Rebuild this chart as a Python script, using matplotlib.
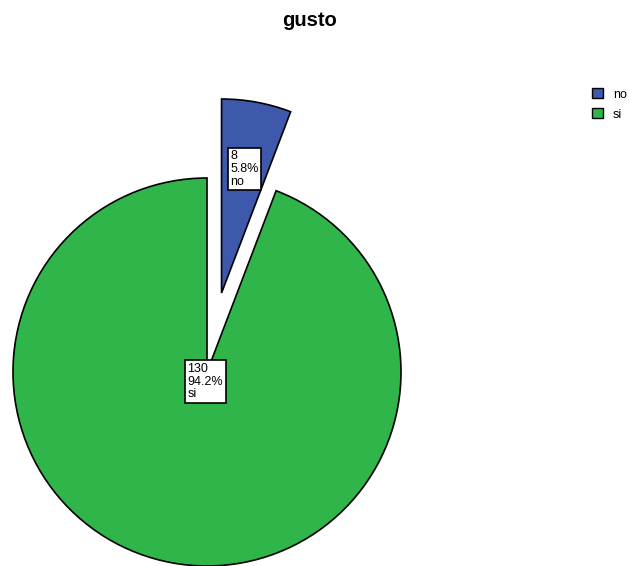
import numpy as np
import matplotlib
matplotlib.use("Agg")
import matplotlib.pyplot as plt
from matplotlib.patches import Patch

plt.rcParams['font.family'] = ['Liberation Sans', 'DejaVu Sans']

categories = ['no', 'si']
counts = [8, 130]
colors = ['#3e58ac', '#2fb54a']
explode = [0.414, 0.0]
label_dist = [0.65, 0.05]


def make_graph():
	fig = plt.figure(figsize=(6.29, 5.66), dpi=100)
	# axes in pixel units, pie centre at (207, 372) from top-left
	ax = fig.add_axes([0, 0, 1, 1])
	radius = 194

	wedges, _ = ax.pie(counts, explode=[e * radius for e in explode], colors=colors,
		startangle=90, counterclock=False, center=(207, 194), radius=radius,
		wedgeprops=dict(edgecolor='black', linewidth=1.2))

	ax.set_xlim(0, 629)
	ax.set_ylim(0, 566)
	ax.set_aspect('equal')
	ax.axis('off')

	total = sum(counts)
	for w, n, cat, d in zip(wedges, counts, categories, label_dist):
		ang = np.deg2rad((w.theta1 + w.theta2) / 2)
		cx, cy = w.center
		x = cx + d * w.r * np.cos(ang)
		y = cy + d * w.r * np.sin(ang)
		ax.text(x, y, '%d\n%.1f%%\n%s' % (n, 100.0 * n / total, cat),
			ha='center', va='center', multialignment='left', fontsize=9,
			linespacing=1.1,
			bbox=dict(boxstyle='square,pad=0.2', facecolor='white',
				edgecolor='black', linewidth=1.2))

	fig.text(0.492, 0.964, 'gusto', ha='center', va='center',
		fontsize=14.5, fontweight='bold')

	handles = [Patch(facecolor=c, edgecolor='black', linewidth=1.0) for c in colors]
	fig.legend(handles, categories, loc='upper left', bbox_to_anchor=(0.933, 0.853),
		frameon=False, fontsize=9, handlelength=0.88, handleheight=0.88,
		handletextpad=0.8, labelspacing=0.6, borderaxespad=0)

	fig.savefig('out.png', dpi=100)


def main():
	make_graph()

if __name__ == "__main__":
	main()
